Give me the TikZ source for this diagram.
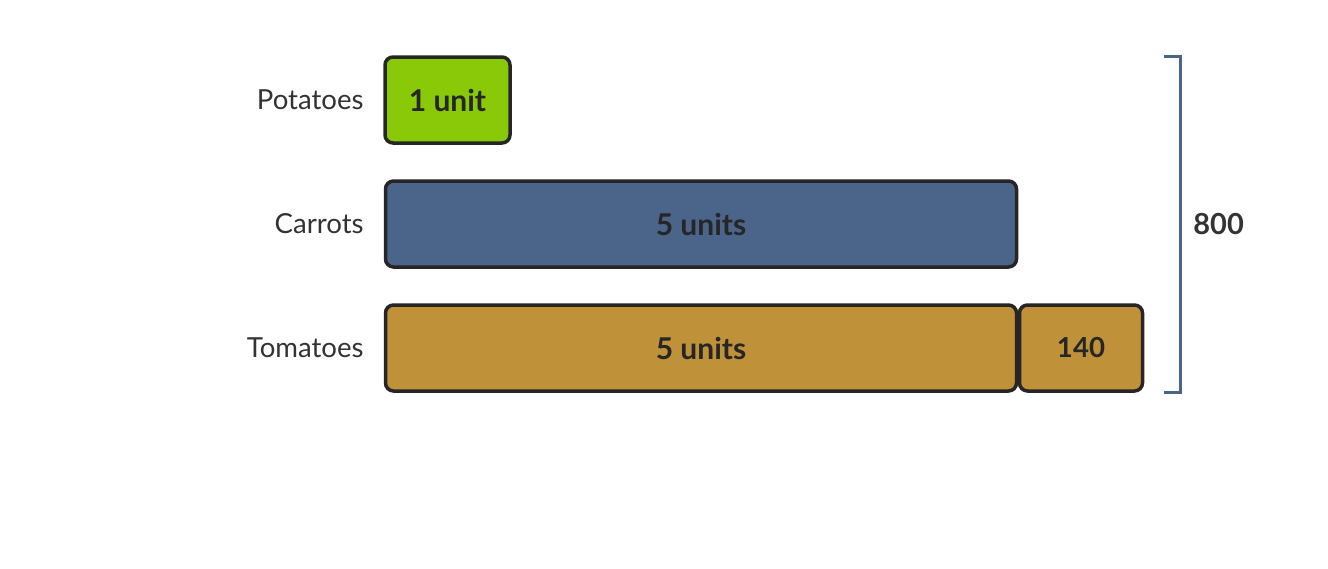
\documentclass[tikz,border=0pt]{standalone}
\usepackage{fontspec}
\setmainfont{Lato}
\definecolor{potgreen}{HTML}{8AC907}
\definecolor{carblue}{HTML}{4A6589}
\definecolor{tomgold}{HTML}{BF9138}
\definecolor{edgegray}{HTML}{262626}
\definecolor{textgray}{HTML}{333333}
\tikzset{
  unitbar/.style={draw=edgegray, line width=1.75pt, rounded corners=4pt,
    inner sep=0pt, outer sep=0pt, minimum height=43pt,
    font=\fontsize{15}{18}\selectfont\bfseries, text=edgegray},
  rowlabel/.style={anchor=east, inner sep=0pt, font=\fontsize{13.8}{16}\selectfont, text=textgray},
}
\begin{document}
\begin{tikzpicture}[x=0.5pt, y=-0.5pt]
\useasboundingbox (0,0) rectangle (1328,568);

% Row labels
\node[rowlabel] (lpot) at (364,100) {Potatoes};
\node[rowlabel] (lcar) at (364,224) {Carrots};
\node[rowlabel] (ltom) at (364,348) {Tomatoes};

% Potatoes - 1 unit
\node[unitbar, fill=potgreen, minimum width=62.5pt] (pot) at (447.5,100) {1 unit};

% Carrots - 5 units
\node[unitbar, fill=carblue, minimum width=315.5pt] (car) at (701,224) {5 units};

% Tomatoes - 5 units + 140
\node[unitbar, fill=tomgold, minimum width=315.5pt] (tom) at (701,348) {5 units};
\node[unitbar, fill=tomgold, minimum width=61.5pt, font=\fontsize{13.8}{16}\selectfont\bfseries] (extra) at (1081,348) {140};

% Total bracket
\coordinate (btop) at (1180,56);
\coordinate (bbot) at (1180,392);
\draw[carblue, line width=1.5pt] ([xshift=-8pt]btop) -- (btop) -- (bbot) -- ([xshift=-8pt]bbot);
\node[anchor=west, inner sep=0pt, font=\fontsize{14.5}{17}\selectfont\bfseries, text=textgray] (total) at (1193,224) {800};
\end{tikzpicture}
\end{document}
